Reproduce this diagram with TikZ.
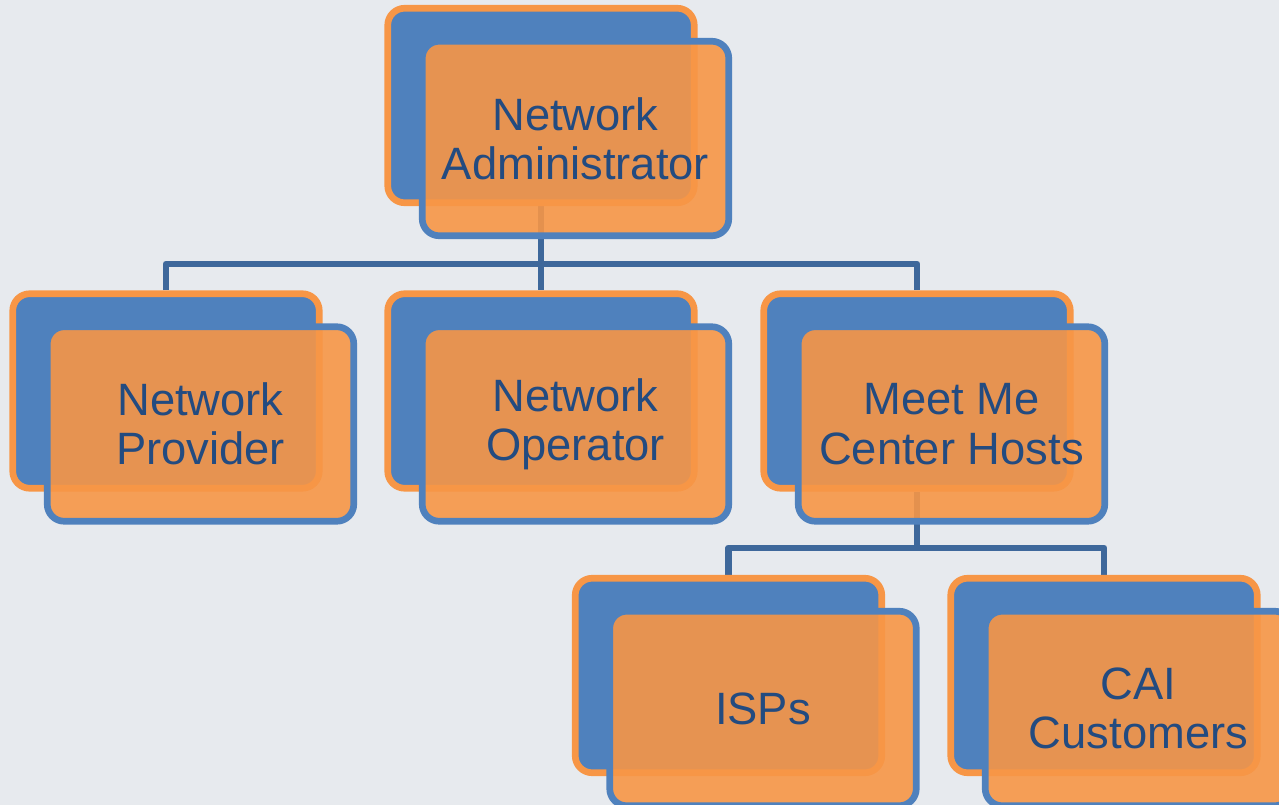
\documentclass[tikz,border=0pt]{standalone}
\usepackage{fontspec}
\setmainfont{Liberation Sans}
\usetikzlibrary{calc}
\definecolor{bgcol}{RGB}{231,234,238}
\definecolor{boxblue}{RGB}{79,129,189}
\definecolor{boxorange}{RGB}{247,150,70}
\definecolor{linkblue}{RGB}{62,104,155}
\definecolor{textblue}{RGB}{35,75,128}
\pgfdeclarelayer{bg}
\pgfdeclarelayer{links}
\pgfsetlayers{bg,links,main}
\tikzset{back box/.style={draw=boxorange,fill=boxblue,line width=5pt,
		rounded corners=12.75pt,minimum width=229.9pt,minimum height=145.9pt},
	front box/.style={draw=boxblue,fill=boxorange,fill opacity=0.9,text opacity=1,
		line width=5pt,rounded corners=12.75pt,minimum width=229.9pt,minimum height=145.9pt,
		text=textblue,align=center,font=\fontsize{34}{37}\selectfont},
	link/.style={draw=linkblue,line width=5pt,line join=round},
	shift box/.style={shift={(34.5,33)}}}

\begin{document}
\begin{tikzpicture}[x=0.75pt, y=-0.75pt]
	\useasboundingbox (0,0) rectangle (1279,805);
	\begin{pgfonlayer}{bg}
		\fill[bgcol] (0,0) rectangle (1279,805);
	\end{pgfonlayer}

	\node[back box] (adminback) at (541,105.5) {};
	\node[back box] (providerback) at (166,391) {};
	\node[back box] (operatorback) at (541,391) {};
	\node[back box] (meetmeback) at (917,391) {};
	\node[back box] (ispsback) at (728.5,675.5) {};
	\node[back box] (caiback) at (1104,675.5) {};

	\node[front box] (admin) at ($(adminback)+(34.5,33)$) {Network\\Administrator};
	\node[front box] (provider) at ($(providerback)+(34.5,33)$) {Network\\Provider};
	\node[front box] (operator) at ($(operatorback)+(34.5,33)$) {Network\\Operator};
	\node[front box] (meetme) at ($(meetmeback)+(34.5,33)$) {Meet Me\\Center Hosts};
	\node[front box] (isps) at ($(ispsback)+(34.5,33)$) {ISPs};
	\node[front box] (cai) at ($(caiback)+(34.5,33)$) {CAI\\Customers};

	\coordinate (bus1) at (541,264);
	\coordinate (bus2) at (917,548);
	\begin{pgfonlayer}{links}
		\draw[link] (adminback.south) -- (operatorback.north);
		\draw[link] (providerback.north) |- (bus1) -| (meetmeback.north);
		\draw[link] (meetmeback.south) -- (bus2);
		\draw[link] (ispsback.north) |- (bus2) -| (caiback.north);
	\end{pgfonlayer}
\end{tikzpicture}
\end{document}
